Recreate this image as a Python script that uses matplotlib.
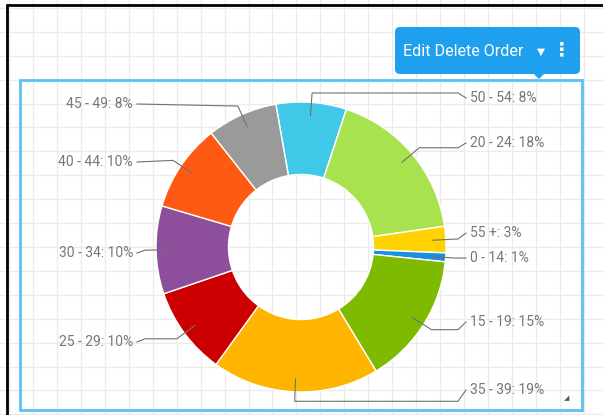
import numpy as np
import matplotlib
matplotlib.use("Agg")
import matplotlib.pyplot as plt
from matplotlib.patches import FancyBboxPatch, Rectangle, Polygon

# Datos del donut (orden de dibujo, en sentido horario desde arriba)
categorias = ["50 - 54", "20 - 24", "55 +", "0 - 14", "15 - 19",
              "35 - 39", "25 - 29", "30 - 34", "40 - 44", "45 - 49"]
valores = [8, 18, 3, 1, 15, 19, 10, 10, 10, 8]
colores = ["#40c8e8", "#a8e24e", "#ffd200", "#1a8fe0", "#7dba00",
           "#ffb400", "#cc0000", "#8d4f9c", "#ff5a14", "#9a9a9a"]

# Posicion de las etiquetas (lado y altura en pixeles)
lado_etiqueta = [1, 1, 1, 1, 1, 1, -1, -1, -1, -1]
y_etiqueta = [98, 143, 233, 258, 322, 390, 342, 253, 162, 104]

W, H = 603, 415
cx, cy, R = 301, 247, 145

fig = plt.figure(figsize=(W / 100, H / 100), dpi=100)

# Fondo con cuadricula
fondo = fig.add_axes([0, 0, 1, 1])
fondo.set_xlim(0, W)
fondo.set_ylim(H, 0)
fondo.axis("off")
for x in np.arange(9, W, 23.95):
    fondo.axvline(x, color="#ebebeb", lw=1, zorder=0)
for y in np.arange(8, H, 23.9):
    fondo.axhline(y, color="#ebebeb", lw=1, zorder=0)
fondo.plot([7, 7], [4, H], color="black", lw=2, solid_capstyle="butt")
fondo.plot([6, W], [5, 5], color="black", lw=2, solid_capstyle="butt")

# Donut
ax = fig.add_axes([(cx - R) / W, (H - cy - R) / H, 2 * R / W, 2 * R / H])
ax.patch.set_alpha(0)
wedges, _ = ax.pie(valores, colors=colores, startangle=100, counterclock=False,
                   wedgeprops=dict(width=0.5, edgecolor="white", linewidth=1))
ax.set_xlim(-1, 1)
ax.set_ylim(-1, 1)
ax.set_aspect("auto")
ax.axis("off")

# Capa superior en pixeles
top = fig.add_axes([0, 0, 1, 1])
top.patch.set_alpha(0)
top.set_xlim(0, W)
top.set_ylim(H, 0)
top.axis("off")

fuente = ["Roboto", "DejaVu Sans"]
for w, cat, v, s, ly in zip(wedges, categorias, valores, lado_etiqueta, y_etiqueta):
    mid = np.deg2rad((w.theta1 + w.theta2) / 2)
    ax0 = cx + 0.91 * R * np.cos(mid)
    ay0 = cy - 0.91 * R * np.sin(mid)
    ex = cx + 1.065 * R * np.cos(mid)
    ey = cy - 1.065 * R * np.sin(mid)
    lx = 470 if s > 0 else 133
    if abs(ly - ey) < 2.5:
        xs = [ax0, ex, lx - s * 4]
        ys = [ay0, ey, ly]
    else:
        xs = [ax0, ex, lx - s * 12, lx - s * 4]
        ys = [ay0, ey, ey, ly]
    top.plot(xs, ys, color="#707070", lw=0.8)
    top.text(lx, ly, f"{cat}: {v}%", ha="left" if s > 0 else "right",
             va="center", fontsize=10, color="#777777", family=fuente)

# Marco de seleccion
top.add_patch(Rectangle((20, 80), 562, 330, fill=False, edgecolor="#5bc2f2", lw=2))
top.text(567, 398, "◢", fontsize=5, color="#555555", ha="center", va="center")

# Barra de herramientas
azul = "#1fa0ee"
top.add_patch(FancyBboxPatch((398, 30), 179, 41, boxstyle="round,pad=3,rounding_size=5",
                             facecolor=azul, edgecolor="none"))
top.add_patch(Polygon([[533, 73], [545, 73], [539, 79]], closed=True,
                      facecolor=azul, edgecolor="none"))
top.text(403, 51, "Edit Delete Order", color="white", fontsize=11.6,
         va="center", ha="left", family=fuente)
top.text(541, 52, "▼", color="white", fontsize=7.5, va="center", ha="center",
         family=["DejaVu Sans"])
top.text(562, 50, "⋮", color="white", fontsize=14, fontweight="bold",
         va="center", ha="center", family=["DejaVu Sans"])

fig.savefig("out.png", dpi=100)
plt.close(fig)
